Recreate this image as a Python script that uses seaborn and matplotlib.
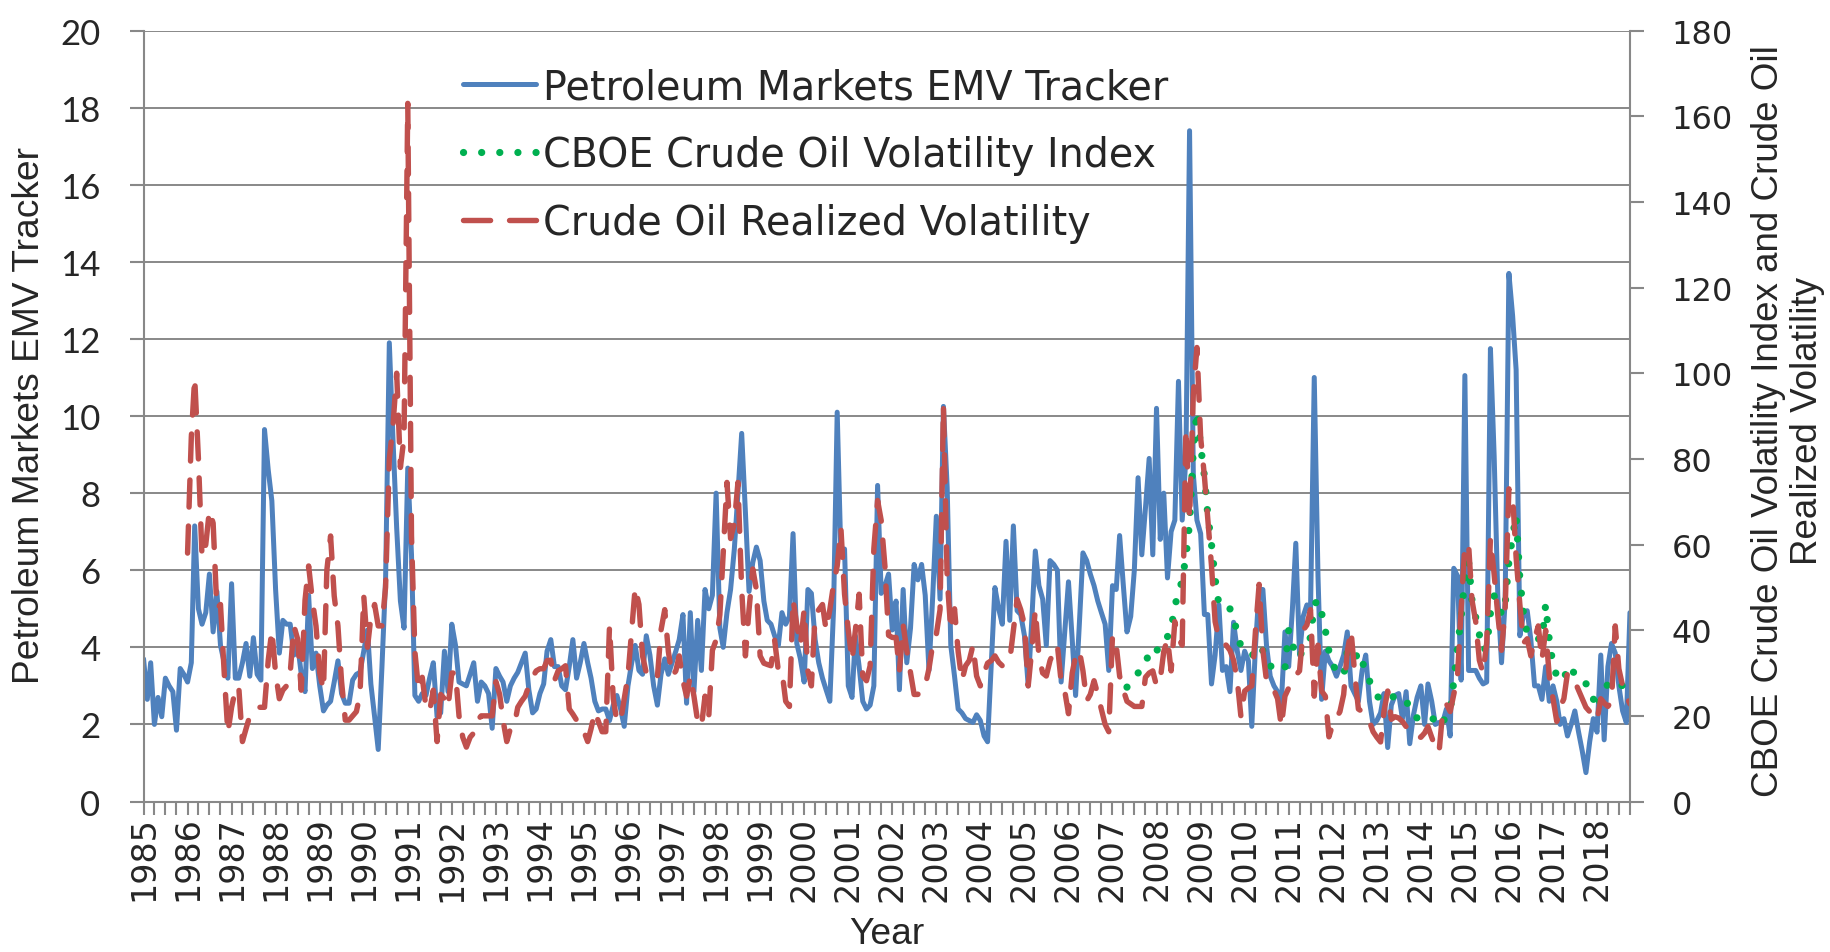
"""
Petroleum Markets EMV Tracker vs crude oil volatility measures (monthly)
"""
import pandas as pd
import matplotlib
matplotlib.use("Agg")
import matplotlib.pyplot as plt
import matplotlib.dates as mdates
import seaborn as sns

# ── Data (monthly values) ───────────────────────────────────────────────────
# Petroleum Markets EMV Tracker, Jan 1985 - Oct 2018 (left axis)
emv = [
    3.7, 2.65, 3.6, 2.0, 2.7, 2.2, 3.2, 3.0, 2.85, 1.85, 3.45, 3.3,       # 1985
    3.1, 3.6, 7.15, 5.0, 4.6, 4.9, 5.9, 4.4, 5.45, 4.05, 3.6, 3.2,        # 1986
    5.65, 3.2, 3.2, 3.6, 4.1, 3.25, 4.25, 3.3, 3.15, 9.65, 8.6, 7.8,      # 1987
    5.5, 3.85, 4.7, 4.6, 4.6, 3.8, 4.1, 3.3, 2.85, 5.35, 3.45, 3.85,      # 1988
    3.0, 2.35, 2.5, 2.6, 3.1, 3.65, 2.8, 2.55, 2.55, 3.15, 3.3, 3.35,     # 1989
    3.9, 4.45, 3.05, 2.2, 1.35, 3.5, 5.75, 11.9, 9.35, 7.1, 5.2, 4.5,     # 1990
    8.65, 6.4, 2.75, 2.6, 2.8, 2.75, 3.2, 3.6, 2.2, 2.3, 3.9, 2.85,       # 1991
    4.6, 4.05, 3.1, 3.05, 3.0, 3.3, 3.6, 2.6, 3.1, 3.0, 2.8, 1.9,         # 1992
    3.45, 3.25, 3.1, 2.6, 3.0, 3.2, 3.35, 3.6, 3.85, 2.9, 2.3, 2.4,       # 1993
    2.8, 3.05, 3.9, 4.2, 3.5, 3.5, 3.0, 2.9, 3.5, 4.2, 3.2, 3.6,          # 1994
    4.1, 3.6, 3.2, 2.6, 2.35, 2.4, 2.4, 2.1, 2.5, 2.75, 2.4, 1.95,        # 1995
    3.0, 3.6, 4.05, 3.4, 3.3, 4.3, 3.8, 3.0, 2.5, 3.3, 3.7, 3.3,          # 1996
    3.6, 3.9, 4.2, 4.85, 2.55, 4.9, 2.85, 4.7, 3.4, 5.5, 5.0, 5.35,       # 1997
    8.0, 4.5, 4.0, 4.9, 5.5, 6.55, 8.0, 9.55, 7.5, 5.45, 6.2, 6.6,        # 1998
    6.25, 5.2, 4.7, 4.6, 4.3, 4.05, 4.9, 4.6, 4.8, 6.95, 4.1, 3.7,        # 1999
    3.1, 5.5, 5.4, 4.2, 3.6, 3.2, 2.9, 2.6, 5.0, 10.1, 6.35, 6.55,        # 2000
    3.0, 2.7, 4.3, 3.5, 2.6, 2.4, 2.5, 3.0, 8.2, 5.4, 5.6, 5.9,           # 2001
    4.45, 5.2, 2.9, 5.5, 3.6, 4.5, 6.15, 5.75, 6.15, 5.35, 3.4, 5.25,     # 2002
    7.4, 5.25, 10.25, 8.15, 4.05, 3.25, 2.4, 2.3, 2.15, 2.1, 2.05, 2.25,  # 2003
    2.1, 1.7, 1.55, 3.6, 5.55, 5.0, 4.6, 6.75, 4.7, 7.15, 4.95, 4.85,     # 2004
    4.3, 3.0, 4.6, 6.5, 5.6, 5.25, 4.05, 6.25, 6.15, 6.0, 3.1, 4.4,       # 2005
    5.7, 4.2, 2.75, 4.6, 6.45, 6.25, 5.9, 5.6, 5.2, 4.9, 4.6, 3.4,        # 2006
    5.6, 5.5, 6.9, 5.6, 4.4, 4.8, 6.0, 8.4, 6.4, 7.6, 8.9, 6.4,           # 2007
    10.2, 6.8, 8.0, 5.8, 7.0, 7.3, 10.9, 7.3, 8.95, 17.4, 8.5, 7.3,       # 2008
    6.95, 4.85, 4.85, 3.05, 3.8, 5.1, 3.4, 3.5, 2.85, 4.65, 3.9, 3.4,     # 2009
    3.9, 3.65, 1.95, 4.05, 5.5, 5.5, 4.05, 3.25, 3.0, 2.85, 2.55, 4.4,    # 2010
    3.5, 5.0, 6.7, 3.8, 4.8, 5.1, 4.95, 11.0, 5.85, 2.65, 3.9, 3.65,      # 2011
    3.5, 3.25, 3.5, 3.8, 4.4, 3.0, 2.8, 2.6, 3.4, 3.8, 2.6, 2.0,          # 2012
    2.1, 2.3, 2.8, 1.4, 2.5, 2.75, 2.8, 2.15, 2.85, 1.5, 2.25, 2.7,       # 2013
    3.0, 2.0, 3.05, 2.6, 2.0, 2.05, 2.05, 2.4, 1.7, 6.05, 5.85, 3.15,     # 2014
    11.05, 3.4, 3.4, 3.4, 3.2, 3.05, 3.1, 11.75, 8.95, 5.35, 3.6, 5.2,    # 2015
    13.7, 12.6, 11.2, 4.3, 4.85, 4.95, 4.2, 3.0, 3.0, 2.65, 3.5, 2.6,     # 2016
    3.0, 2.6, 2.0, 2.15, 1.7, 2.0, 2.35, 1.8, 1.3, 0.75, 1.55, 2.15,      # 2017
    1.8, 3.8, 1.6, 3.5, 4.1, 3.85, 3.0, 2.35, 2.05, 4.9,                  # 2018
]

# Crude Oil Realized Volatility, Jan 1986 - Oct 2018 (right axis)
realized = [
    58, 85, 99, 80, 57, 60, 68, 65, 45, 46, 30, 16,                       # 1986
    22, 26, 27, 14, 17, 20, 21, 22, 22, 22, 33, 40,                       # 1987
    30, 24, 26, 27, 30, 41, 38, 26, 47, 55, 47, 41,                       # 1988
    30, 26, 54, 62, 48, 41, 28, 19, 19, 20, 21, 25,                       # 1989
    48, 36, 43, 46, 41, 41, 50, 80, 88, 100, 78, 85,                      # 1990
    163, 62, 35, 26, 29, 22, 21, 26, 14, 25, 24, 22,                      # 1991
    30, 30, 20, 15, 12.7, 15, 16, 19, 20, 20, 20, 20,                     # 1992
    28, 25, 19, 14, 17, 17.5, 22, 23.4, 24.6, 27, 29, 30.5,               # 1993
    31, 31, 32.9, 33, 28.2, 30.5, 31, 31.7, 21.6, 20.4, 19, 17,           # 1994
    16.3, 14, 17, 21, 18.7, 16.3, 16.3, 41, 24, 18.7, 18.7, 24,           # 1995
    29.3, 40, 50, 46, 34, 30, 28.7, 29.3, 29, 40, 44.8, 35,               # 1996
    29.3, 30.5, 34, 28.2, 24.6, 29.3, 24.6, 18.7, 17.5, 24.6, 19.8, 35.3, # 1997
    37.7, 43.6, 58, 74.5, 61.4, 65, 74.5, 49.5, 34, 44.8, 54.3, 49.5,     # 1998
    34, 32.3, 32, 31.7, 37.7, 30.5, 30.5, 23.4, 22.2, 47.2, 41.2, 36.5,   # 1999
    44.8, 30.5, 27, 43.6, 44.8, 46, 40, 44.8, 50.7, 55, 63.8, 48.4,       # 2000
    40, 32.9, 40, 48.4, 29.3, 28.2, 31.7, 59, 70.3, 65.6, 54.9, 38.8,     # 2001
    38.3, 38.3, 30.5, 41.2, 35.3, 30, 25, 25, 26.5, 27, 31, 36.5,         # 2002
    39, 44.8, 92.3, 52, 40, 45, 35, 28.2, 31.7, 32.9, 36.5, 29.3,         # 2003
    27, 30, 32.3, 32.9, 34, 32.5, 31.7, 32, 32.9, 40, 47.2, 44.8,         # 2004
    41.2, 27, 35, 44.8, 34, 30, 29.3, 32.9, 35, 36.5, 28, 25.8,           # 2005
    20.5, 30, 34, 35.3, 30.5, 23.5, 25, 28.2, 25, 21.5, 18, 16.3,         # 2006
    38.8, 36.5, 29.3, 26, 23.4, 22.8, 22.2, 22.2, 22.2, 29, 30, 30.5,     # 2007
    27, 28.5, 35, 38, 30.5, 42, 38, 36.5, 87, 66, 95, 106,                # 2008
    85, 76, 66, 55, 42, 38, 37, 36.5, 35.3, 33, 28.2, 19.8,               # 2009
    25.8, 26.5, 27, 40, 50.7, 35.3, 28.2, 27, 26, 24, 17.5, 24.6,         # 2010
    26.5, 28.2, 29.5, 30.5, 40, 41.2, 44.8, 24.6, 36.5, 25.8, 24.6, 15.1, # 2011
    18, 19.5, 21, 25, 35, 40, 30, 21.6, 21, 20, 18.7, 16.3,               # 2012
    15, 13.9, 21, 25.8, 19.2, 19.8, 19.5, 18.7, 17.5, 16.3, 15.5, 15.1,   # 2013
    15, 16, 17.5, 15, 12.7, 11.5, 21, 22.8, 21, 25, 29.3, 45,             # 2014
    60, 60, 47, 42, 33, 30, 37, 61.4, 53, 43.6, 35.3, 45,                 # 2015
    73, 71.5, 57, 46, 37, 38, 34, 38, 41, 33, 40, 29.3,                   # 2016
    24, 18.7, 22, 24, 30, 29, 28, 26, 24, 22, 21, 19.5,                   # 2017
    19, 24, 23, 22.2, 23.4, 41, 31, 27, 24.6, 22.8,                       # 2018
]

# CBOE Crude Oil Volatility Index, May 2007 - Oct 2018 (right axis)
ovx = [
    26.7, 28, 29, 30, 31, 31.7, 35.3, 34.7,                               # 2007
    35, 37, 38.3, 38.5, 40, 46, 48, 52, 57, 65, 82, 91,                   # 2008
    83, 76, 67, 60, 52, 46, 46, 46, 45, 42, 40, 36,                       # 2009
    35.5, 35, 34.7, 33, 34, 35.3, 33.5, 31.7, 31, 30.5, 30.5, 31,         # 2010
    40, 37, 33.5, 34, 35.3, 37, 38.3, 46, 47, 44, 40, 35,                 # 2011
    32, 30.5, 29.8, 29.3, 35, 35.5, 35.9, 32, 32.9, 30, 28.2, 26,         # 2012
    24.6, 24, 23.4, 24, 24.6, 24.3, 24, 24, 24, 21, 20.4, 19.5,           # 2013
    19.2, 19.5, 19.8, 19.8, 18.5, 17.5, 18.5, 20, 21, 28, 36, 43,         # 2014
    52, 56, 47, 43, 39, 35.3, 36, 44, 48, 47, 43.6, 46,                   # 2015
    56, 62, 66.8, 52, 44, 39, 39, 38.3, 38, 37.7, 46, 37.7,               # 2016
    32, 29.3, 28.5, 28.2, 31.7, 30.5, 30, 29.9, 28.5, 27.5, 27, 24,       # 2017
    21.6, 24, 25.2, 27.6, 28.2, 27.8, 27.5, 27, 26.5, 26.5,               # 2018
]

emv_dates = pd.date_range("1985-01-01", periods=len(emv), freq="MS")
rv_dates = pd.date_range("1986-01-01", periods=len(realized), freq="MS")
ovx_dates = pd.date_range("2007-05-01", periods=len(ovx), freq="MS")

BLUE = "#4F81BD"
RED = "#C0504D"
GREEN = "#00B050"
GRID = "#888888"

sns.set_style("white")
plt.rcParams["font.family"] = ["DejaVu Sans"]

fig = plt.figure(figsize=(18.31, 9.53), dpi=100)
ax = fig.add_axes([0.0784, 0.1579, 0.8118, 0.8090])
ax2 = ax.twinx()

# ── Lines ───────────────────────────────────────────────────────────────────
sns.lineplot(x=emv_dates, y=emv, ax=ax, color=BLUE, linewidth=3.6,
             errorbar=None, legend=False)
sns.lineplot(x=ovx_dates, y=ovx, ax=ax2, color=GREEN, linewidth=5.2,
             linestyle=(0, (0.01, 2.5)), dash_capstyle="round",
             errorbar=None, legend=False)
sns.lineplot(x=rv_dates, y=realized, ax=ax2, color=RED, linewidth=3.9,
             linestyle=(0, (5.0, 3.5)), dash_capstyle="round",
             errorbar=None, legend=False)

# ── Axes ────────────────────────────────────────────────────────────────────
ax.set_xlim(pd.Timestamp("1985-01-01"), pd.Timestamp("2018-10-01"))
ax.set_ylim(0, 20)
ax2.set_ylim(0, 180)
ax.set_yticks(range(0, 21, 2), labels=[str(v) for v in range(0, 21, 2)],
              fontfamily="Lato", fontsize=25)
ax2.set_yticks(range(0, 181, 20), labels=[str(v) for v in range(0, 181, 20)],
               fontsize=23)
ax.set_xlabel("")
ax.set_ylabel("")
ax2.set_ylabel("")

ax.xaxis.set_major_locator(mdates.YearLocator(1))
ax.xaxis.set_major_formatter(mdates.DateFormatter("%Y"))
ax.xaxis.set_minor_locator(mdates.MonthLocator(bymonth=[1, 4, 7, 10]))

ax.yaxis.grid(True, color=GRID, linewidth=1.4)
ax.xaxis.grid(False)
ax.set_axisbelow(True)

for sp in ["top", "right"]:
    ax.spines[sp].set_visible(False)
for sp in ["left", "bottom"]:
    ax.spines[sp].set_color(GRID)
    ax.spines[sp].set_linewidth(1.5)
for sp in ["left", "top", "bottom"]:
    ax2.spines[sp].set_visible(False)
ax2.spines["right"].set_color(GRID)
ax2.spines["right"].set_linewidth(1.5)

ax.tick_params(axis="x", which="both", direction="out", length=9, width=1.5,
               color=GRID, bottom=True)
ax.tick_params(axis="x", which="major", labelrotation=90, labelsize=24, pad=1)
ax.tick_params(axis="y", direction="out", length=10, width=1.5, color=GRID,
               pad=21, left=True)
ax2.tick_params(axis="y", direction="out", length=10, width=1.5, color=GRID,
                pad=20, right=True)

# ── Axis titles ─────────────────────────────────────────────────────────────
fig.text(30 / 1831, 1 - 415 / 953, "Petroleum Markets EMV Tracker",
         rotation=90, ha="center", va="center",
         family="Liberation Sans", fontsize=26.7)
fig.text(1788 / 1831, 1 - 421 / 953,
         "CBOE Crude Oil Volatility Index and Crude Oil\nRealized Volatility",
         rotation=90, ha="center", va="center", multialignment="center",
         linespacing=1.17, family="Liberation Sans", fontsize=26.5)
fig.text(887 / 1831, 1 / 953, "Year", ha="center", va="bottom",
         family="Liberation Sans", fontsize=26.7)

# ── Legend ──────────────────────────────────────────────────────────────────
handles = [ax.get_lines()[0], ax2.get_lines()[0], ax2.get_lines()[1]]
labels = ["Petroleum Markets EMV Tracker",
          "CBOE Crude Oil Volatility Index",
          "Crude Oil Realized Volatility"]
fig.legend(handles, labels, loc="upper left",
           bbox_to_anchor=(463 / 1831, 1 - 68 / 953), frameon=False,
           fontsize=28.5, handlelength=1.84, handletextpad=0.17,
           labelspacing=0.71, borderpad=0, borderaxespad=0)

plt.savefig("out.png", dpi=100)
plt.close()
